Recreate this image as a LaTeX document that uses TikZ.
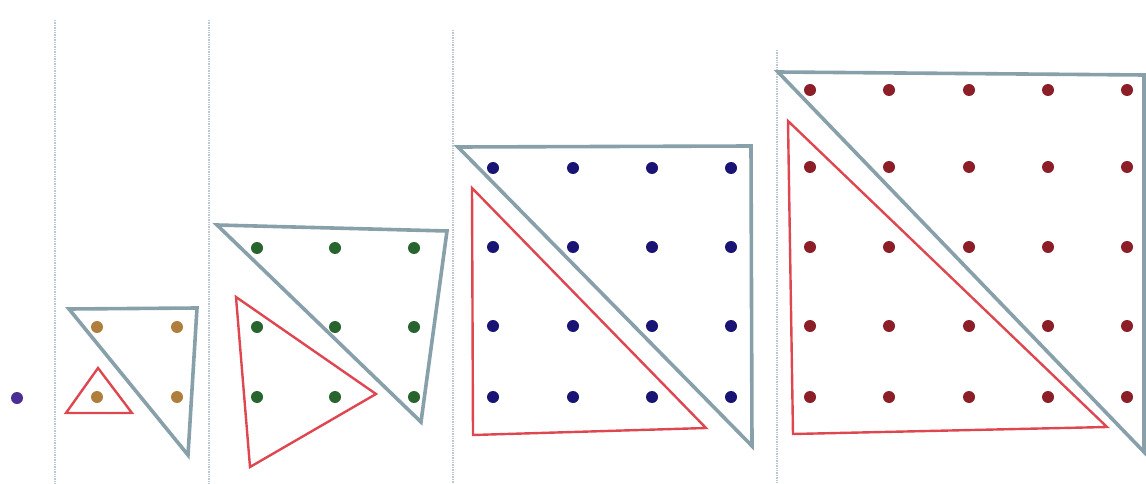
\documentclass[tikz,border=0pt]{standalone}
\usepackage{tikz}
\definecolor{gbgray}{RGB}{135,160,170}
\definecolor{gbred}{RGB}{222,70,80}
\definecolor{gbsep}{RGB}{185,200,210}
\definecolor{dotpurple}{RGB}{75,45,150}
\definecolor{dotorange}{RGB}{175,125,60}
\definecolor{dotgreen}{RGB}{40,100,45}
\definecolor{dotblue}{RGB}{25,20,115}
\definecolor{dotred}{RGB}{140,30,40}

\begin{document}
\begin{tikzpicture}[x=1pt,y=-1pt,
    sepline/.style={gbsep,densely dotted,line width=1.4pt},
    bigtri/.style={gbgray,line width=3.6pt,line join=miter},
    smalltri/.style={gbred,line width=2.4pt,line join=miter},
    pin/.style={radius=6pt}]
  \useasboundingbox (0,0) rectangle (1146,484);
  \clip (0,0) rectangle (1146,484);
  % separators
  \draw[sepline] (55,20)--(55,484);
  \draw[sepline] (209,20)--(209,484);
  \draw[sepline] (453,30)--(453,484);
  \draw[sepline] (777,50)--(777,484);
  % pins
  \fill[dotpurple] (17,398) circle[pin];
  \foreach \x in {97,177} \foreach \y in {327,397}
    \fill[dotorange] (\x,\y) circle[pin];
  \foreach \x in {257,335,414} \foreach \y in {248,327,397}
    \fill[dotgreen] (\x,\y) circle[pin];
  \foreach \x in {493,573,652,731} \foreach \y in {168,247,326,397}
    \fill[dotblue] (\x,\y) circle[pin];
  \foreach \x in {810,889,969,1048,1127} \foreach \y in {90,167,247,326,397}
    \fill[dotred] (\x,\y) circle[pin];
  % triangles
  \draw[bigtri] (69,309)--(197,308)--(188,455)--cycle;
  \draw[smalltri] (98,368)--(132,413)--(66,413)--cycle;
  \draw[bigtri] (217,225)--(447,231)--(421,422)--cycle;
  \draw[smalltri] (236,297)--(376,394)--(250,467)--cycle;
  \draw[bigtri] (458,147)--(751,146)--(752,446)--cycle;
  \draw[smalltri] (472,188)--(706,428)--(473,435)--cycle;
  \draw[bigtri] (778,72)--(1144,75)--(1144,452)--cycle;
  \draw[smalltri] (788,121)--(1107,427)--(793,434)--cycle;
\end{tikzpicture}
\end{document}
